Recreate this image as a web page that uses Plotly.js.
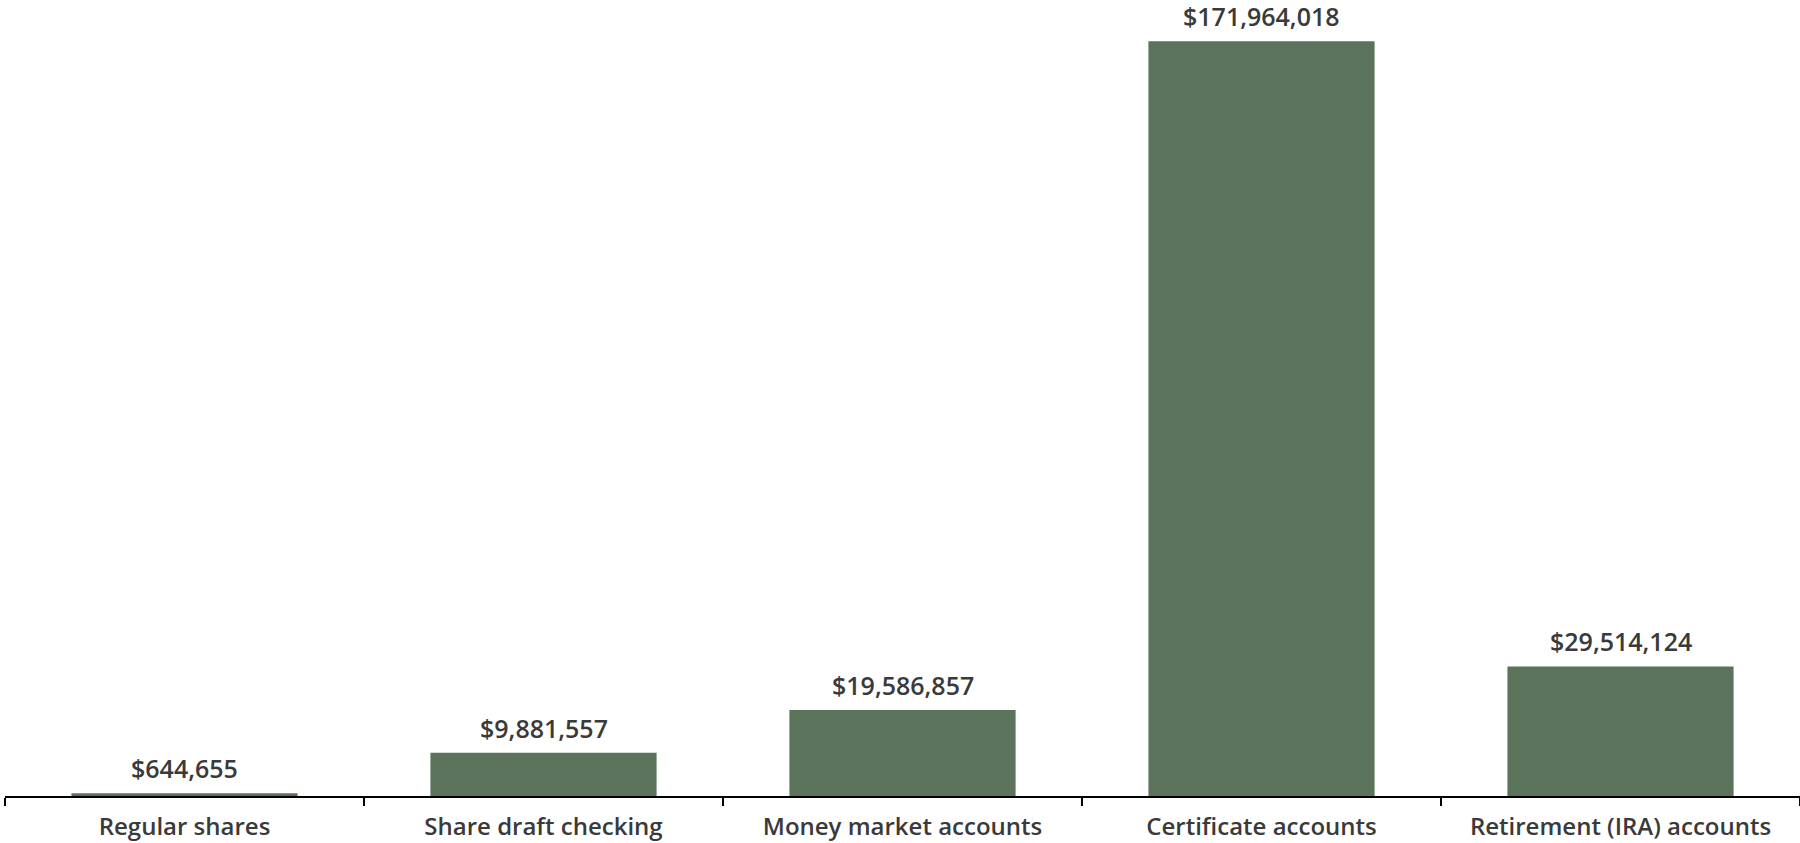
<!DOCTYPE html>
<html>
<head>
<meta charset="utf-8">
<script src="https://cdn.plot.ly/plotly-3.0.1.min.js"></script>
<style>
  html, body { margin: 0; padding: 0; background: #ffffff; }
  #chart { width: 1800px; height: 843px; }
</style>
</head>
<body>
<div id="chart"></div>
<script>
const categories = [
  "Regular shares",
  "Share draft checking",
  "Money market accounts",
  "Certificate accounts",
  "Retirement (IRA) accounts"
];
const balances = [644655, 9881557, 19586857, 171964018, 29514124];
const valueLabels = balances.map(v => "$" + v.toLocaleString("en-US"));

const FONT = "'Open Sans', Lato, 'Liberation Sans', sans-serif";
const TEXT_COLOR = "#3a3a3a";
const BAR_COLOR = "#5a735a";

const trace = {
  type: "bar",
  x: categories,
  y: balances,
  width: 0.63,
  marker: { color: BAR_COLOR, line: { width: 0 } },
  hoverinfo: "x+y"
};

const annotations = categories.map((c, i) => ({
  x: c,
  y: balances[i],
  xref: "x",
  yref: "y",
  text: valueLabels[i],
  showarrow: false,
  yanchor: "bottom",
  xanchor: "center",
  yshift: 7,
  borderpad: 0,
  font: { family: FONT, size: 25, color: TEXT_COLOR, weight: 600 }
}));

const layout = {
  width: 1800,
  height: 843,
  margin: { l: 5, r: 0, t: 0, b: 47, pad: 0 },
  paper_bgcolor: "#ffffff",
  plot_bgcolor: "#ffffff",
  showlegend: false,
  bargap: 0.37,
  xaxis: {
    type: "category",
    showline: true,
    linecolor: "#000000",
    linewidth: 2,
    ticks: "outside",
    tickson: "boundaries",
    ticklen: 8,
    tickwidth: 2,
    tickcolor: "#000000",
    ticklabelstandoff: 8,
    showgrid: false,
    zeroline: false,
    tickfont: { family: FONT, size: 24, color: TEXT_COLOR, weight: 600 }
  },
  yaxis: {
    range: [0, 181380000],
    visible: false,
    showgrid: false,
    zeroline: false,
    fixedrange: true
  },
  annotations: annotations
};

Plotly.newPlot("chart", [trace], layout, { displayModeBar: false, staticPlot: true });
</script>
</body>
</html>
